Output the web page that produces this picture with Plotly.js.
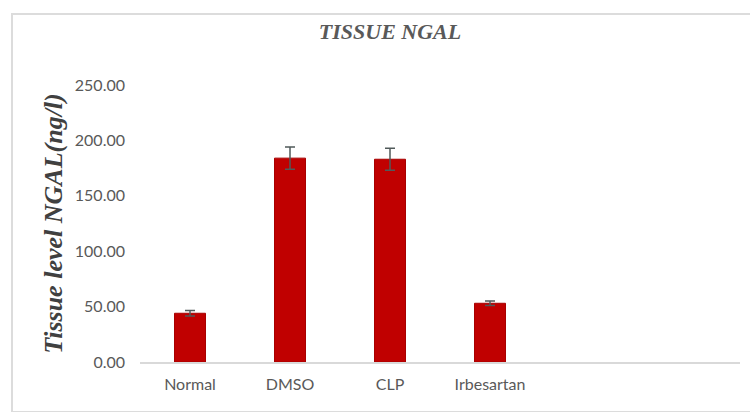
<!DOCTYPE html>
<html>
<head>
<meta charset="utf-8">
<script src="https://cdn.plot.ly/plotly-3.0.1.min.js"></script>
<style>
html,body{margin:0;padding:0;background:#fff;}
#chart{position:absolute;left:0;top:0;width:750px;height:412px;}
#frame{position:absolute;left:11px;top:13px;width:745px;height:396px;border:2px solid #dcdcdc;pointer-events:none;}
</style>
</head>
<body>
<div id="chart"></div>
<div id="frame"></div>
<script>
const categories = ["Normal", "DMSO", "CLP", "Irbesartan"];
const values = [44, 184, 183, 53];
const errors = [2.5, 10, 10, 2];
const yTicks = [0, 50, 100, 150, 200, 250];
const yTickLabels = ["0.00", "50.00", "100.00", "150.00", "200.00", "250.00"];

const trace = {
  type: "bar",
  x: categories,
  y: values,
  width: 0.31,
  marker: {color: "#c00000", line: {color: "#a80000", width: 1}},
  error_y: {type: "data", array: errors, visible: true, color: "#505a5a", thickness: 1.5, width: 5},
  hoverinfo: "none"
};

const layout = {
  width: 750, height: 412,
  margin: {l: 140, r: 10, t: 85, b: 50},
  paper_bgcolor: "rgba(0,0,0,0)",
  plot_bgcolor: "rgba(0,0,0,0)",
  showlegend: false,
  title: {
    text: "<b><i>TISSUE NGAL</i></b>",
    font: {family: "Liberation Serif", size: 22, color: "#595959"},
    x: 0.52, xref: "container", xanchor: "center",
    y: 0.925, yref: "container", yanchor: "middle"
  },
  xaxis: {
    type: "category",
    categoryarray: categories,
    range: [-0.5, 5.5],
    showgrid: false, zeroline: false,
    showline: true, linecolor: "#d9d9d9", linewidth: 1.5,
    ticks: "", ticklabelstandoff: 7,
    tickfont: {family: "Lato", size: 16, color: "#595959"},
    automargin: false, fixedrange: true
  },
  yaxis: {
    range: [0, 250],
    tickvals: yTicks, ticktext: yTickLabels,
    showgrid: false, zeroline: false, showline: false,
    ticks: "", ticklabelstandoff: 14,
    tickfont: {family: "Lato", size: 16, color: "#595959"},
    title: {
      text: "<b><i>Tissue level NGAL(ng/l)</i></b>",
      font: {family: "Liberation Serif", size: 26, color: "#404040"},
      standoff: 4
    },
    automargin: false, fixedrange: true
  }
};

Plotly.newPlot("chart", [trace], layout, {displayModeBar: false, staticPlot: true});
</script>
</body>
</html>
